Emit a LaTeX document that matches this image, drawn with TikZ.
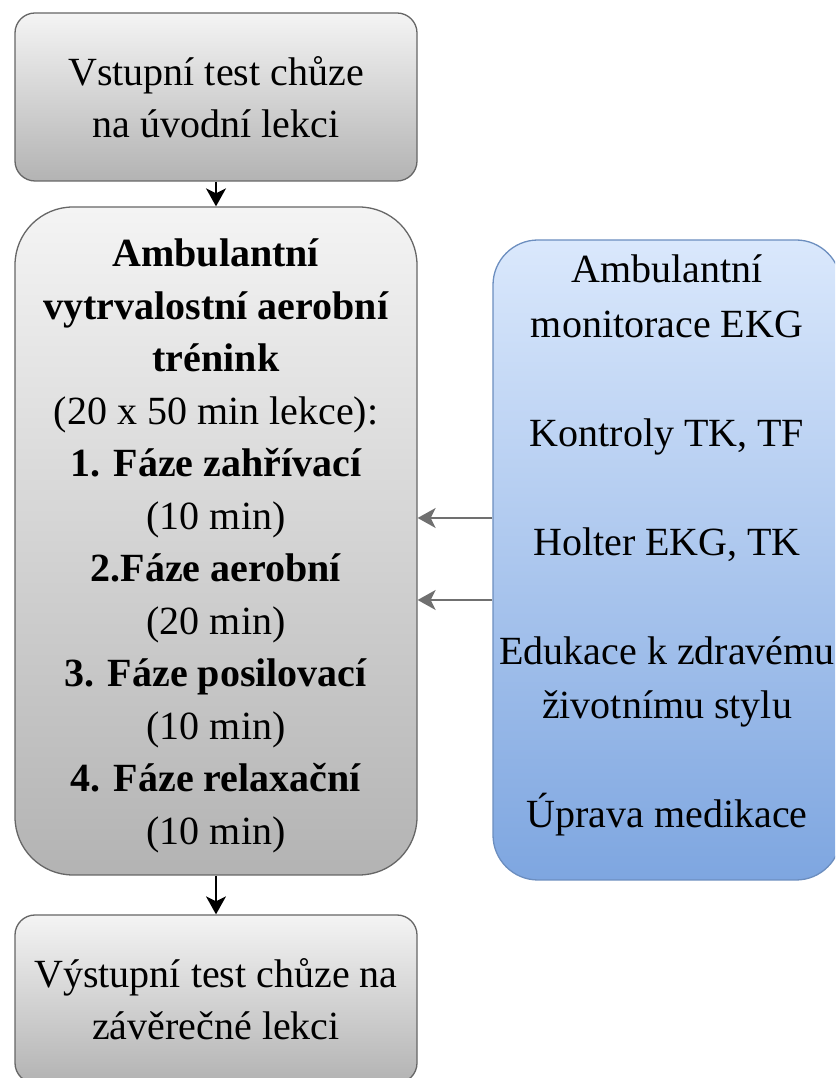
\documentclass[tikz,border=0pt]{standalone}
\usepackage{fontspec}
\setmainfont{Liberation Serif}
\usetikzlibrary{arrows.meta, positioning}
\definecolor{grayedge}{HTML}{666666}
\definecolor{graytop}{HTML}{F4F4F4}
\definecolor{graybottom}{HTML}{B3B3B3}
\definecolor{blueedge}{HTML}{6C8EBF}
\definecolor{bluetop}{HTML}{DAE8FC}
\definecolor{bluebottom}{HTML}{7EA6E0}
\definecolor{arrowgray}{HTML}{707070}

\begin{document}
\begin{tikzpicture}[x=1pt, y=1pt,
  grayblock/.style={draw=grayedge, line width=1.3pt, rounded corners=20pt, top color=graytop, bottom color=graybottom, minimum width=402pt, align=center, inner sep=0pt, font=\fontsize{40}{52}\selectfont},
  blueblock/.style={draw=blueedge, line width=1.3pt, rounded corners=45pt, top color=bluetop, bottom color=bluebottom, minimum width=348pt, minimum height=640pt, align=center, inner sep=0pt, font=\fontsize{40}{54.5}\selectfont},
  flow/.style={line width=1.5pt, -{Stealth[length=18pt, width=20pt, inset=5pt]}}
]
  \useasboundingbox (0,0) rectangle (835,1078);
  \clip (0,0) rectangle (835,1078);

  % Walking tests and training
  \node[grayblock, minimum height=168pt] (entry) at (216, 981) {Vstupní test chůze\\na úvodní lekci};
  \node[grayblock, minimum height=668pt, rounded corners=58pt, font=\fontsize{40}{52.5}\selectfont] (training) at (216, 537) {\rule{0pt}{38pt}\textbf{Ambulantní}\\\textbf{vytrvalostní aerobní}\\\textbf{trénink}\\(20 x 50 min lekce):\\\textbf{1. Fáze zahřívací}\\(10 min)\\\textbf{2.Fáze aerobní}\\(20 min)\\\textbf{3. Fáze posilovací}\\(10 min)\\\textbf{4. Fáze relaxační}\\(10 min)};
  \node[grayblock, minimum height=168pt] (exit) at (216, 79) {Výstupní test chůze na\\závěrečné lekci};

  % Care during training
  \node[blueblock] (care) at (667, 518) {Ambulantní\\monitorace EKG\\[54.5pt]Kontroly TK, TF\\[54.5pt]Holter EKG, TK\\[54.5pt]Edukace k zdravému\\životnímu stylu\\[54.5pt]Úprava medikace\\[-17pt]\rule{0pt}{0pt}};

  % Arrows
  \draw[flow] (entry) -- (training);
  \draw[flow] (training) -- (exit);
  \draw[flow, arrowgray] ([yshift=42pt]care.west) -- ([yshift=42pt]care.west -| training.east);
  \draw[flow, arrowgray] ([yshift=-40pt]care.west) -- ([yshift=-40pt]care.west -| training.east);

\end{tikzpicture}
\end{document}
